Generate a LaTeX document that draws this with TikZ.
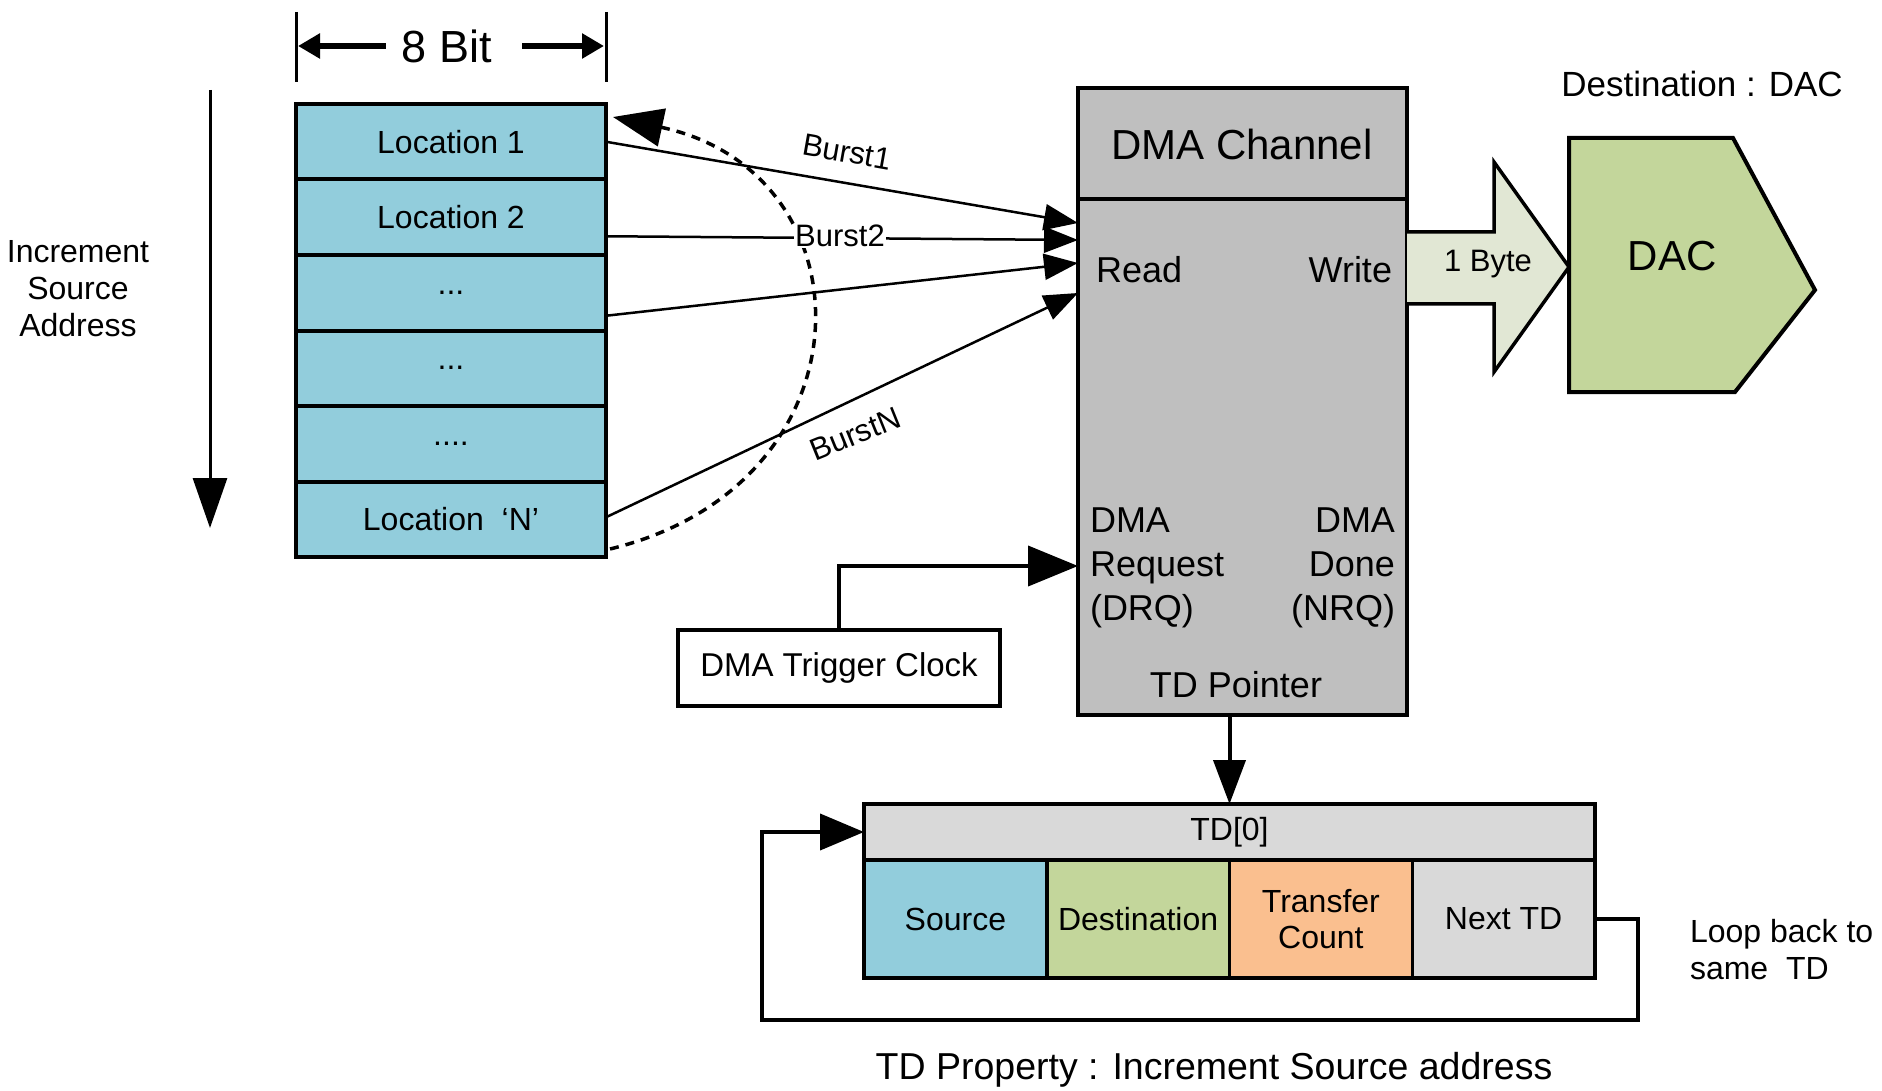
\documentclass[tikz,border=0pt]{standalone}
\usepackage{fontspec}
\setmainfont{Liberation Sans}
\usetikzlibrary{arrows.meta,calc}

\definecolor{cellblue}{HTML}{92CDDC}
\definecolor{dmagray}{HTML}{BFBFBF}
\definecolor{tdgray}{HTML}{D9D9D9}
\definecolor{dacgreen}{HTML}{C3D69B}
\definecolor{cntorange}{HTML}{FABF8F}
\definecolor{bytefill}{HTML}{E1E7D4}

\newcommand\ftCell{\fontsize{32}{36}\selectfont}
\newcommand\ftBig{\fontsize{42}{48}\selectfont}
\newcommand\ftMid{\fontsize{36}{44}\selectfont}
\newcommand\ftSmall{\fontsize{31}{36}\selectfont}
\newcommand\ftNote{\fontsize{32}{37}\selectfont}
\newcommand\ftField{\fontsize{32}{36}\selectfont}

\begin{document}
\begin{tikzpicture}[x=1pt,y=-1pt,
  every node/.style={outer sep=0pt},
  cell/.style={draw=black, line width=4pt, fill=cellblue, minimum width=310pt,
    minimum height=75.5pt, inner sep=0pt, font=\ftCell},
  box/.style={draw=black, line width=4pt, inner sep=0pt},
  field/.style={draw=black, line width=3.5pt, minimum width=182.75pt,
    minimum height=118pt, inner sep=0pt, font=\ftField, align=center},
  burst/.style={line width=2.5pt, -{Triangle[length=34pt,width=26pt]}},
  conn/.style={line width=4pt},
  label/.style={inner sep=0pt}
]
\useasboundingbox (0,0) rectangle (1882,1091);

% ---------- memory column ----------
\node[cell, anchor=north west] (m1) at (296,104) {Location 1};
\node[cell, anchor=north] (m2) at (m1.south) {Location 2};
\node[cell, anchor=north] (m3) at (m2.south) {...};
\node[cell, anchor=north] (m4) at (m3.south) {...};
\node[cell, anchor=north] (m5) at (m4.south) {....};
\node[cell, anchor=north] (m6) at (m5.south) {Location\ \ ‘N’};

% width marker
\draw[line width=3pt] ($(m1.north west)+(0,-92)$) -- ($(m1.north west)+(0,-22)$);
\draw[line width=3pt] ($(m1.north east)+(0,-92)$) -- ($(m1.north east)+(0,-22)$);
\node[label, font=\fontsize{45}{50}\selectfont] (bits) at (447,46) {8 Bit};
\draw[line width=6pt, -{Triangle[length=22pt,width=24pt]}]
  ([xshift=-16pt]bits.west) -- ($(m1.north west)+(2,-58)$);
\draw[line width=6pt, -{Triangle[length=22pt,width=24pt]}]
  ([xshift=30pt]bits.east) -- ($(m1.north east)+(-2,-58)$);

% address direction
\coordinate (incTop) at (210,90);
\coordinate (incBot) at (210,528);
\draw[line width=3pt, -{Triangle[length=50pt,width=34pt]}] (incTop) -- (incBot);
\node[label, font=\ftNote, align=center] (inc) at (78,289) {Increment\\Source\\Address};

% ---------- DMA channel ----------
\node[box, fill=dmagray, minimum width=329pt, minimum height=627pt, anchor=north west]
  (dma) at (1078,88) {};
\draw[line width=4pt] ($(dma.north west)+(0,111)$) -- ($(dma.north east)+(0,111)$);
\node[label, font=\ftBig] (title) at (1242,144) {DMA Channel};
\node[label, font=\ftMid, anchor=west] (read) at (1096,270) {Read};
\node[label, font=\ftMid, anchor=east] (write) at (1392,270) {Write};
\node[label, font=\ftMid, align=left, anchor=west] (drq) at (1090,568) {DMA\\Request\\(DRQ)};
\node[label, font=\ftMid, align=right, anchor=east] (nrq) at (1395,568) {DMA\\Done\\(NRQ)};
\node[label, font=\ftMid] (tdp) at (1236,685) {TD Pointer};

% burst inputs
\coordinate (r1) at ($(dma.north west)+(0,135)$);
\coordinate (r2) at ($(dma.north west)+(0,152)$);
\coordinate (r3) at ($(dma.north west)+(0,175)$);
\coordinate (r4) at ($(dma.north west)+(0,205)$);
\draw[burst] (m1.east) -- (r1);
\draw[burst] ($(m2.east)+(0,19)$) -- (r2);
\draw[burst] ($(m3.east)+(0,23)$) -- (r3);
\draw[burst] ($(m6.east)+(0,-2)$) -- (r4);

% wrap-around of the source address
\draw[line width=3.5pt, dash pattern=on 9pt off 7pt,
      -{Triangle[length=50pt,width=38pt]}]
  ($(m6.south east)+(4,-8)$) .. controls (875,485) and (875,173) .. ($(m1.north east)+(7,13)$);

\node[label, font=\ftSmall, rotate=-10] (b1) at (847,152) {Burst1};
\node[font=\ftSmall, fill=white, inner sep=1pt] (b2) at (840,236) {Burst2};
\node[label, font=\ftSmall, rotate=22] (bn) at (855,434) {BurstN};

% ---------- output to DAC ----------
\filldraw[fill=bytefill, draw=black, line width=3.5pt]
  (1407,232) -- (1494,232) -- (1494,162) -- (1569,267) -- (1494,372) -- (1494,304) -- (1407,304);
\node[label, font=\ftSmall] (byte) at (1488,264) {1 Byte};

\filldraw[fill=dacgreen, draw=black, line width=4pt]
  (1569,138) -- (1733,138) -- (1815,290) -- (1735,392) -- (1569,392) -- cycle;
\node[label, font=\ftBig] (dac) at (1672,256) {DAC};
\node[label, font=\fontsize{35}{40}\selectfont] (dest) at (1702,84) {Destination : DAC};

% ---------- trigger ----------
\node[box, fill=white, minimum width=322pt, minimum height=76pt, font=\fontsize{33}{38}\selectfont]
  (trig) at (839,668) {DMA Trigger Clock};
\coordinate (drqIn) at ($(dma.north west)+(0,478)$);
\draw[conn, -{Triangle[length=50pt,width=40pt]}] (trig.north) |- (drqIn);

% ---------- transfer descriptor ----------
\node[box, fill=tdgray, minimum width=731pt, minimum height=56pt, font=\ftField]
  (tdh) at (1229.5,832) {TD[0]};
\node[field, fill=cellblue, anchor=north west] (f1) at (tdh.south west) {Source};
\node[field, fill=dacgreen, anchor=north west] (f2) at (f1.north east) {Destination};
\node[field, fill=cntorange, anchor=north west] (f3) at (f2.north east) {Transfer\\Count};
\node[field, fill=tdgray, anchor=north west] (f4) at (f3.north east) {Next TD};

\draw[conn, -{Triangle[length=44pt,width=32pt]}] (tdh.north |- dma.south) -- (tdh.north);

\coordinate (loopR) at (1638,1020);
\coordinate (loopL) at (762,1020);
\draw[conn, -{Triangle[length=44pt,width=36pt]}]
  (f4.east) -| (loopR) -- (loopL) |- (tdh.west);
\node[label, font=\ftNote, align=left, anchor=west] (loopTxt) at (1690,950) {Loop back to\\same\ \ TD};

\node[label, font=\fontsize{37.5}{42}\selectfont] (prop) at (1214,1070) {TD Property : Increment Source address};
\end{tikzpicture}
\end{document}
